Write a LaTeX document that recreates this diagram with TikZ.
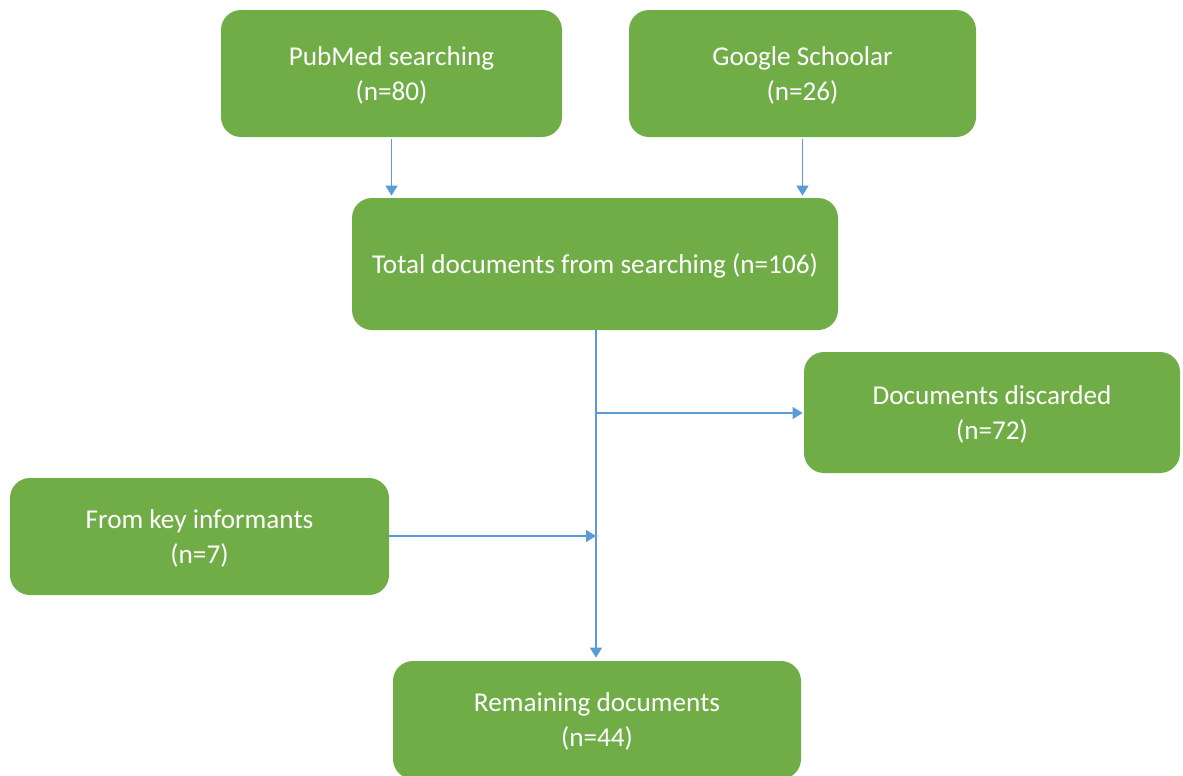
\documentclass[tikz,border=0pt]{standalone}
\usepackage{fontspec}
\setmainfont{Carlito}
\usetikzlibrary{arrows.meta}
\definecolor{boxgreen}{HTML}{70AD47}
\definecolor{lineblue}{HTML}{5B9BD5}
\tikzset{
	greenbox/.style={fill=boxgreen, rounded corners=10pt, text=white, align=center,
		font=\fontsize{13.6pt}{17.5pt}\selectfont, inner sep=0pt, text depth=-2pt},
	bluearrow/.style={draw=lineblue, line width=0.7pt, -{Triangle[length=5pt,width=6pt]}}
}
\begin{document}
\begin{tikzpicture}[x=0.5pt, y=-0.5pt]
		%%%%% START %%%%%
		
		\clip (0, 0) rectangle (1183, 776);
		
		\node[greenbox, minimum width=170.5pt, minimum height=63.5pt] (pubmed) at (391.5, 73.5) {PubMed searching\\(n=80)};
		\node[greenbox, minimum width=173.5pt, minimum height=63.5pt] (google) at (802.5, 73.5) {Google Schoolar\\(n=26)};
		
		\node[greenbox, minimum width=243pt, minimum height=66pt] (total) at (595, 264) {Total documents from searching (n=106)};
		
		\node[greenbox, minimum width=188pt, minimum height=60.5pt] (discard) at (992, 412.5) {Documents discarded\\(n=72)};
		\node[greenbox, minimum width=189.5pt, minimum height=58.5pt] (informant) at (199.5, 536.5) {From key informants\\(n=7)};
		
		\node[greenbox, minimum width=204pt, minimum height=59pt] (remain) at (597, 720) {Remaining documents\\(n=44)};
		
		\coordinate (split) at (596, 413);
		\coordinate (join) at (596, 536);
		
		\draw[bluearrow, shorten <=1pt, shorten >=1pt] (pubmed.south) -- (pubmed.south |- total.north);
		\draw[bluearrow, shorten <=1pt, shorten >=1pt] (google.south) -- (google.south |- total.north);
		
		\draw[bluearrow, -, shorten <=2pt] (596, 330) coordinate (trunk) -- (split);
		\draw[bluearrow, shorten >=1.5pt] (trunk) -- (trunk |- remain.north);
		\draw[bluearrow, shorten >=0.5pt] (split) -- (discard.west |- split);
		\draw[bluearrow] (informant.east |- join) -- (join);
		
		%%%%% END %%%%%
	\end{tikzpicture}
\end{document}
